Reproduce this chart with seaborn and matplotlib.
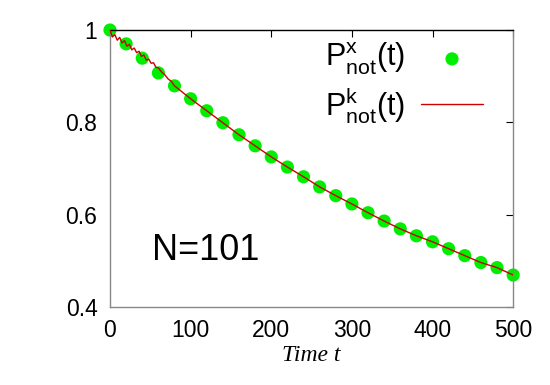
import numpy as np
import pandas as pd
import matplotlib
matplotlib.use('Agg')
import matplotlib.pyplot as plt
import seaborn as sns

# simulated points (green dots)
t_sim = [0, 20, 40, 60, 80, 100, 120, 140, 160, 180, 200, 220, 240, 260, 280,
         300, 320, 340, 360, 380, 400, 420, 440, 460, 480, 500]
p_sim = [1.000, 0.970, 0.939, 0.907, 0.879, 0.851, 0.825, 0.799, 0.773, 0.749,
         0.725, 0.703, 0.682, 0.660, 0.641, 0.623, 0.604, 0.586, 0.569, 0.554,
         0.541, 0.526, 0.511, 0.496, 0.485, 0.469]

# kinetic curve (red line), jagged near the start
t_kin = [0, 3, 6, 9, 12, 15, 18, 21, 24, 27, 30, 33, 36, 39, 42, 45, 48, 51, 54,
         57, 60, 64, 68, 72, 76, 80, 100, 120, 140, 160, 180, 200, 220, 240, 260,
         280, 300, 320, 340, 360, 380, 400, 420, 440, 460, 480, 500]
p_kin = [1.000, 0.985, 0.990, 0.978, 0.984, 0.972, 0.977, 0.965, 0.969, 0.957,
         0.961, 0.951, 0.954, 0.943, 0.946, 0.935, 0.937, 0.928, 0.929, 0.919,
         0.918, 0.909, 0.903, 0.894, 0.889, 0.879, 0.851, 0.825, 0.799, 0.773,
         0.749, 0.725, 0.703, 0.682, 0.660, 0.641, 0.623, 0.604, 0.586, 0.569,
         0.554, 0.541, 0.526, 0.511, 0.496, 0.485, 0.469]

sim = pd.DataFrame({'t': t_sim, 'p': p_sim})
kin = pd.DataFrame({'t': t_kin, 'p': p_kin})

sns.set_style('white')
plt.rcParams['font.family'] = ['Liberation Sans', 'DejaVu Sans']
plt.rcParams['mathtext.fontset'] = 'custom'
plt.rcParams['mathtext.rm'] = 'Liberation Sans'
plt.rcParams['mathtext.it'] = 'Liberation Sans'
plt.rcParams['text.color'] = 'black'
plt.rcParams['xtick.color'] = 'black'
plt.rcParams['ytick.color'] = 'black'
plt.rcParams['axes.labelcolor'] = 'black'

fig = plt.figure(figsize=(5.5, 3.85), dpi=100)
ax = fig.add_axes([0.2, 0.203, 0.733, 0.719])

sns.scatterplot(data=sim, x='t', y='p', ax=ax, color='#00ee00', s=90,
                edgecolor='none', clip_on=False, zorder=2,
                label=r'$\mathregular{P^{x}_{not}(t)}$')
sns.lineplot(data=kin, x='t', y='p', ax=ax, color='#cc0000', lw=1.0,
             zorder=3, label=r'$\mathregular{P^{k}_{not}(t)}$')

ax.set_xlim(0, 500)
ax.set_ylim(0.4, 1.0)
ax.set_xticks([0, 100, 200, 300, 400, 500])
ax.set_yticks([0.4, 0.6, 0.8, 1.0])
ax.set_yticklabels(['0.4', '0.6', '0.8', '1'])
ax.tick_params(axis='both', direction='in', length=5, labelsize=16.5,
               top=True, right=True, pad=9)
ax.set_xlabel('Time t', family='Liberation Serif', style='italic',
              fontsize=17, labelpad=2)
ax.set_ylabel('')
for side in ['left', 'right', 'bottom']:
    ax.spines[side].set_color('#888888')
ax.spines['top'].set_color('black')
for s in ax.spines.values():
    s.set_linewidth(1.0)

ax.text(0.105, 0.17, 'N=101', transform=ax.transAxes, fontsize=26,
        ha='left', va='baseline')

ax.legend(loc='upper right', bbox_to_anchor=(0.926, 0.96), frameon=False,
          markerfirst=False, fontsize=22, labelspacing=0.25, borderpad=0,
          borderaxespad=0, handlelength=2.05, handletextpad=0.5)

plt.savefig('out.png', dpi=100)
